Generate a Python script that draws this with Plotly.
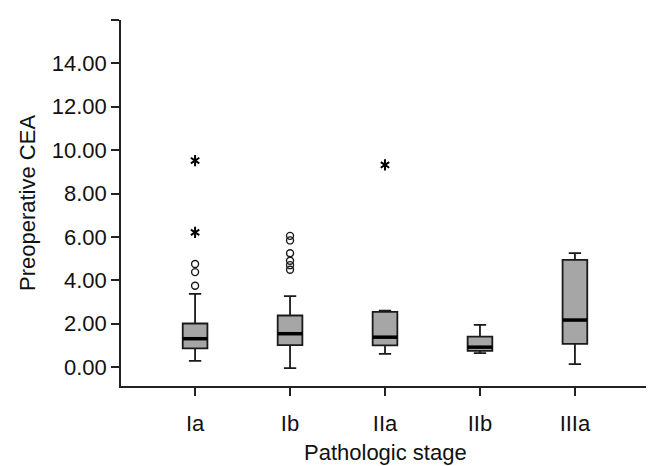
import plotly.graph_objects as go

categories = ["Ia", "Ib", "IIa", "IIb", "IIIa"]
lower_whisker = [0.29, -0.05, 0.61, 0.645, 0.14]
q1 = [0.86, 1.01, 1.00, 0.75, 1.07]
median = [1.31, 1.54, 1.38, 0.92, 2.17]
q3 = [2.01, 2.38, 2.55, 1.41, 4.94]
upper_whisker = [3.38, 3.27, 2.60, 1.95, 5.25]

# outliers (open circles) and extreme values (stars)
circle_cat = ["Ia", "Ia", "Ia", "Ib", "Ib", "Ib", "Ib", "Ib", "Ib"]
circle_val = [4.75, 4.38, 3.75, 6.05, 5.84, 5.25, 4.90, 4.70, 4.49]
star_cat = ["Ia", "Ia", "IIa"]
star_val = [9.52, 6.21, 9.32]

y_ticks = [0, 2, 4, 6, 8, 10, 12, 14]
y_ticktext = ["0.00", "2.00", "4.00", "6.00", "8.00", "10.00", "12.00", "14.00"]

pos = {c: i for i, c in enumerate(categories)}
xs = list(range(len(categories)))

BOX_W = 0.26
FONT = "Liberation Sans, Arial, sans-serif"

fig = go.Figure()
fig.add_trace(go.Box(
    x=xs, q1=q1, median=median, q3=q3,
    lowerfence=lower_whisker, upperfence=upper_whisker,
    width=BOX_W, whiskerwidth=0.5,
    fillcolor="#a6a6a6", line=dict(color="#1a1a1a", width=1.8),
    boxpoints=False, showlegend=False, hoverinfo="skip",
))

# thicker median lines
mx, my = [], []
for i, m in enumerate(median):
    mx += [i - BOX_W / 2, i + BOX_W / 2, None]
    my += [m, m, None]
fig.add_trace(go.Scatter(x=mx, y=my, mode="lines",
                         line=dict(color="#000000", width=3.5),
                         showlegend=False, hoverinfo="skip"))

fig.add_trace(go.Scatter(
    x=[pos[c] for c in circle_cat], y=circle_val, mode="markers",
    marker=dict(symbol="circle-open", size=7, color="#1a1a1a", line=dict(width=1.4)),
    showlegend=False, hoverinfo="skip"))

for sym in ["y-up-open", "y-down-open"]:
    fig.add_trace(go.Scatter(
        x=[pos[c] for c in star_cat], y=star_val, mode="markers",
        marker=dict(symbol=sym, size=7, color="#000000", line=dict(width=2, color="#000000")),
        showlegend=False, hoverinfo="skip"))

fig.update_layout(
    width=654, height=466,
    margin=dict(l=113, r=13, t=12, b=88, autoexpand=False),
    paper_bgcolor="white", plot_bgcolor="white",
    font=dict(family=FONT, size=22, color="#111111"),
    boxmode="overlay",
    annotations=[
        dict(text="Pathologic stage", xref="paper", yref="paper", x=0.5, y=0,
             xanchor="center", yanchor="top", yshift=-52, showarrow=False,
             font=dict(size=22)),
        dict(text="Preoperative CEA", xref="paper", yref="paper", x=0, y=0.5,
             xanchor="center", yanchor="middle", xshift=-94, textangle=-90,
             showarrow=False, font=dict(size=22)),
    ],
)
fig.update_xaxes(
    range=[-0.78, 4.78], automargin=False,
    tickvals=xs + [4.779], ticktext=categories + [""],
    ticks="outside", ticklen=8, tickwidth=1.5, tickcolor="#222",
    showline=True, linecolor="#222", linewidth=1.5,
    showgrid=False, zeroline=False,
    tickfont=dict(size=22), ticklabelstandoff=9,
)
fig.update_yaxes(
    range=[-0.87, 16.0], automargin=False,
    tickvals=y_ticks + [15.995], ticktext=y_ticktext + [""],
    ticks="outside", ticklen=8, tickwidth=1.5, tickcolor="#222",
    showline=True, linecolor="#222", linewidth=1.5,
    showgrid=False, zeroline=False,
    tickfont=dict(size=22),
)

fig.write_html("out.html")
